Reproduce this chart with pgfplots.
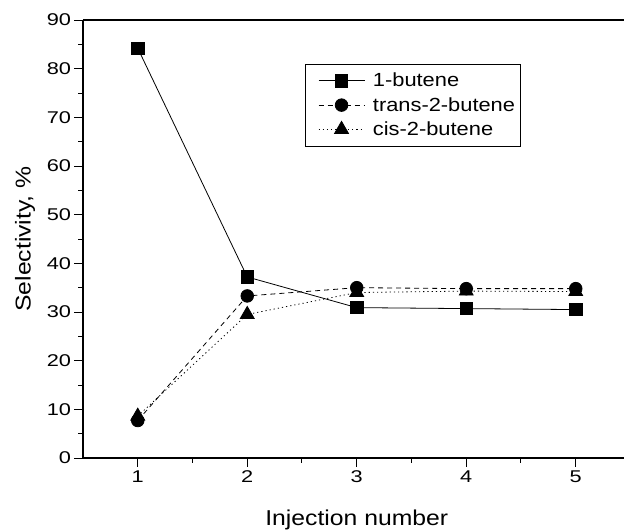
\documentclass[border=0pt]{standalone}
\usepackage{fontspec}
\setmainfont{Liberation Sans}[FakeStretch=1.15]
\newfontfamily\tickfont{Liberation Sans}[FakeStretch=1.28]
\usepackage{pgfplots}
\pgfplotsset{compat=1.18}

\begin{document}
\begin{tikzpicture}
\begin{axis}[
  scale only axis,
  width=547.5pt, height=438pt,
  xmin=0.5, xmax=5.5,
  ymin=0, ymax=90,
  axis x line=box, axis y line=left,
  axis line style={-, line width=1.2pt},
  xtick={1,2,3,4,5},
  ytick={0,10,...,90},
  minor x tick num=1,
  minor y tick num=1,
  xtick pos=bottom, ytick pos=left,
  tick align=outside,
  major tick length=8.5pt,
  minor tick length=4.5pt,
  every tick/.style={black, line width=1pt},
  /pgf/number format/assume math mode=true,
  tick label style={font=\tickfont\fontsize{17}{19}\selectfont},
  xticklabel style={yshift=-1pt},
  yticklabel style={xshift=0pt},
  xlabel={Injection number},
  ylabel={Selectivity, \%},
  label style={font=\fontsize{21.5}{24}\selectfont},
  xlabel style={at={(axis description cs:0.5,-0.155)}, anchor=base},
  ylabel style={at={(axis description cs:-0.106,0.5)}, anchor=center},
  legend style={
    at={(rel axis cs:0.405,0.9)}, anchor=north west,
    draw=black, line width=0.8pt, fill=white,
    font=\fontsize{19}{21}\selectfont,
    inner xsep=3pt, inner ysep=7pt, row sep=5pt,
    cells={anchor=west},
  },
  legend image code/.code={
    \path (-10pt,0pt) (52pt,0pt);
    \draw[mark repeat=2, mark phase=2, #1] plot coordinates {(0pt,0pt) (23pt,0pt) (46pt,0pt)};
  },
]
\addplot[black, line width=0.8pt, mark=square*, mark size=6.2pt,
  mark options={solid, fill=black}]
  coordinates {(1,84.2) (2,37.2) (3,30.9) (4,30.7) (5,30.5)};
\addlegendentry{1-butene}

\addplot[black, line width=0.8pt, dash pattern=on 5pt off 4pt,
  mark=*, mark size=6.3pt, mark options={solid, fill=black}]
  coordinates {(1,7.7) (2,33.3) (3,35.0) (4,34.8) (5,34.8)};
\addlegendentry{trans-2-butene}

\addplot[black, line width=0.8pt, dash pattern=on 1.2pt off 3pt,
  mark=triangle*, mark size=8pt, mark options={solid, fill=black}]
  coordinates {(1,8.6) (2,29.5) (3,34.0) (4,34.3) (5,34.2)};
\addlegendentry{cis-2-butene}
\end{axis}
\pgfresetboundingbox
\useasboundingbox (-83pt,-73pt) rectangle (541pt,458pt);
\end{tikzpicture}
\end{document}
